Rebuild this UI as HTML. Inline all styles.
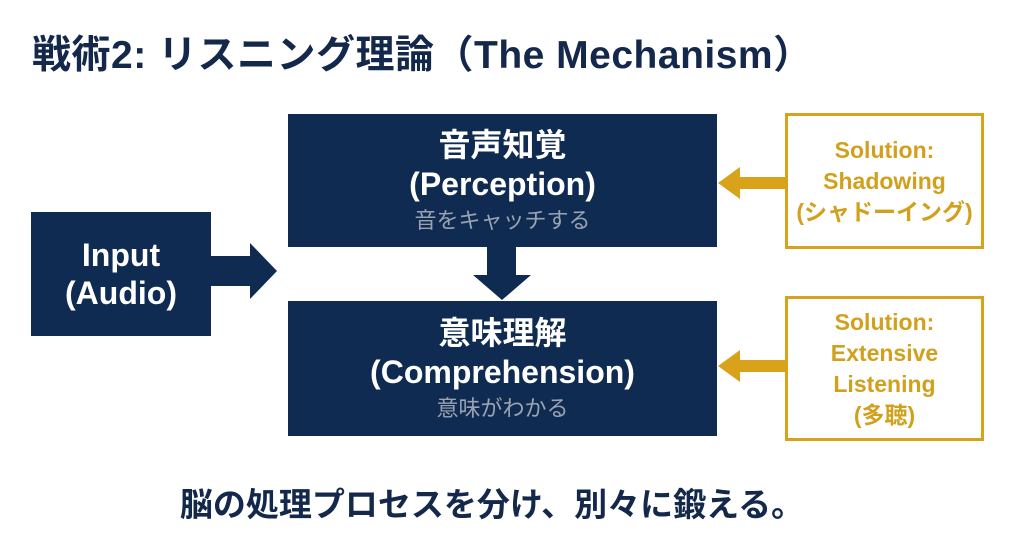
<!DOCTYPE html>
<html><head><meta charset="utf-8"><style>
body{margin:0;width:1024px;height:533px;background:#fff;position:relative;overflow:hidden;font-family:"Liberation Sans","Noto Sans CJK JP",sans-serif;}
.t{position:absolute;font-weight:bold;color:#13284a;white-space:nowrap;}
.box{position:absolute;background:#0f2b51;color:#fff;text-align:center;font-weight:bold;display:flex;flex-direction:column;justify-content:center;}
.g{position:absolute;border:3px solid #d8a21a;color:#d1a01c;text-align:center;font-weight:bold;display:flex;flex-direction:column;justify-content:center;font-size:23px;line-height:31px;box-sizing:border-box;white-space:nowrap;}
.sub{color:#9aa3b2;font-weight:normal;font-size:22px;line-height:30px;margin-top:2px}
</style></head><body>
<div class="t" style="left:32px;top:24px;font-size:39px;letter-spacing:0.5px;">戦術2: リスニング理論（The Mechanism）</div>
<div class="box" style="left:288px;top:114px;width:429px;height:133px;font-size:32px;line-height:39px;">音声知覚<br>(Perception)<div class="sub">音をキャッチする</div></div>
<div class="box" style="left:288px;top:301px;width:429px;height:135px;font-size:32px;line-height:39px;">意味理解<br>(Comprehension)<div class="sub">意味がわかる</div></div>
<div class="box" style="left:31px;top:212px;width:180px;height:124px;font-size:32px;line-height:38px;">Input<br>(Audio)</div>
<svg style="position:absolute;left:0;top:0" width="1024" height="533">
<polygon points="211,256 250,256 250,243 277,271 250,299 250,286 211,286" fill="#0f2b51"/>
<polygon points="487,247 516,247 516,275 531,275 502,300 473,275 487,275" fill="#0f2b51"/>
<polygon points="786,177 740,177 740,167 718,183 740,199 740,189 786,189" fill="#d8a21a"/>
<polygon points="786,360 740,360 740,350 718,366 740,382 740,372 786,372" fill="#d8a21a"/>
</svg>
<div class="g" style="left:785px;top:113px;width:199px;height:136px;">Solution:<br>Shadowing<br>(シャドーイング)</div>
<div class="g" style="left:785px;top:296px;width:199px;height:145px;">Solution:<br>Extensive<br>Listening<br>(多聴)</div>
<div class="t" style="left:-20px;width:1024px;text-align:center;top:478px;font-size:33px;">脳の処理プロセスを分け、別々に鍛える。</div>
</body></html>
